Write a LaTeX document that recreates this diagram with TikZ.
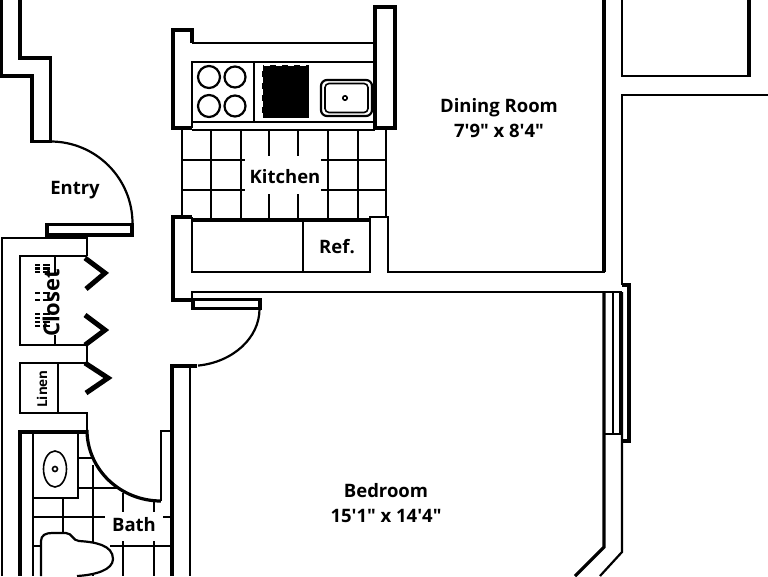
\documentclass[tikz,border=0pt]{standalone}
\usepackage{fontspec}
\setmainfont{Open Sans}[Ligatures=TeXOff]
\begin{document}
\begin{tikzpicture}[
      x=1pt, y=-1pt,
      wall/.style={line width=2.2pt, miter limit=10},
      heavy/.style={line width=3.2pt},
      tile/.style={line width=1.4pt},
      fixture/.style={line width=1.6pt},
      chevron/.style={line width=5pt},
      room/.style={font=\fontsize{18.5}{25}\selectfont\bfseries, inner sep=0pt, align=center},
      small/.style={font=\fontsize{13.5}{16}\selectfont\bfseries, inner sep=0pt}
      ]
  \useasboundingbox (0,0) rectangle (768,576);

  % Outer walls
  \draw[heavy] (1,0) -- (1,76) -- (32,76) -- (32,141.5) -- (50.5,141.5) -- (50.5,58) -- (20,58) -- (20,0);
  \draw[wall] (50.5,141.5) arc[start angle=-90, end angle=0, radius=82];
  \draw[heavy] (47,224.5) rectangle (132,235);
  \draw[wall] (2,576) -- (2,238) -- (47,238);
  \draw[wall] (47,238) -- (87,238) -- (87,256);

  % Closets
  \draw[wall] (87,256) -- (20,256) -- (20,345) -- (87,345) -- (87,363) -- (20,363) -- (20,413) -- (87,413) -- (87,432);
  \draw[wall] (55,256) -- (55,274) (55,335) -- (55,345) (58,363) -- (58,413);
  \draw[chevron] (85,258) -- (105,273) -- (86,289);
  \draw[chevron] (85,315) -- (105,330) -- (85,345);
  \draw[chevron] (85,363) -- (108,378) -- (86,393);
  \foreach \y in {265,268.5,272,293,300,314,318,322,326} \draw[line width=2.2pt] (35,\y) -- (40,\y) (43,\y) -- (50,\y);

  % Bath
  \draw[heavy] (87,432) -- (20,432) -- (20,576);
  \draw[tile] (33,432) -- (33,576);
  \draw[wall] (33,498) rectangle (78,432);
  \draw[fixture] (55,469) ellipse[x radius=11.5, y radius=18];
  \draw[fixture] (55,469) circle[radius=2.5];
  \draw[tile] (78,458) -- (92,458) (78,488) -- (118,488)
              (33,517) -- (105,517) (163,517) -- (170,517)
              (33,546) -- (41,546) (110,546) -- (170,546)
              (63,498) -- (63,533) (123,493) -- (123,512) (123,541) -- (123,576)
              (154,502) -- (154,512) (154,541) -- (154,576);
  \draw[wall] (93,465) -- (93,576);
  \draw[heavy] (87,430) arc[start angle=180, end angle=90, x radius=74, y radius=71];
  \draw[wall] (161,501) -- (161,431) -- (171,431);
  \draw[fill=white, wall] (41,576) -- (41,541) .. controls (41,535) and (46,533) .. (52,533)
       -- (66,533) .. controls (72,533) and (73,541) .. (79,541)
       .. controls (95,542) and (113,545) .. (113,559)
       .. controls (113,570) and (95,575) .. (77,576);

  % Kitchen walls
  \draw[heavy] (192,43) -- (192,30) -- (173,30) -- (173,128) -- (192,128);
  \draw[wall] (192,43) -- (375,43);
  \draw[heavy] (375,43) -- (375,7) -- (395,7) -- (395,128) -- (375,128) -- (375,43);
  \draw[wall] (192,62) rectangle (376,122);
  \draw[wall] (192,128) -- (192,62);
  \draw[wall] (192,130) -- (375,130);
  \draw[fixture] (254,62) -- (254,122);
  \foreach \x/\y/\r in {209/77/11, 235/77/10.5, 209/106/11, 235/106/10.5}
    \draw[wall] (\x,\y) circle[radius=\r];
  \fill (262,65) rectangle (309,118);
  \draw[white, line width=1pt, dash pattern=on 6pt off 6pt] (262,65) rectangle (309,118);
  \draw[wall, rounded corners=6pt] (321,80) rectangle (372,116);
  \draw[fixture, rounded corners=4pt] (325,83.5) rectangle (368,112.5);
  \draw[fixture] (345,98) circle[radius=2.2];

  % Kitchen tiles
  \foreach \x in {182,211,241,328,358,386} \draw[tile] (\x,130) -- (\x,218);
  \foreach \x in {269,298} \draw[tile] (\x,130) -- (\x,156) (\x,194) -- (\x,218);
  \foreach \y in {160,190} \draw[tile] (182,\y) -- (245,\y) (321,\y) -- (386,\y);

  % Counter and walls below kitchen
  \draw[heavy] (192,217) -- (173,217) -- (173,300) -- (192,300);
  \draw[heavy] (192,220) -- (370,220);
  \draw[wall] (192,217) -- (192,272) -- (370,272) -- (370,217) -- (388,217) -- (388,272) -- (604,272) -- (604,0);
  \draw[wall] (303,220) -- (303,272);
  \draw[wall] (192,300) -- (192,292) -- (622,292);
  \draw[heavy] (193,299.5) -- (260,299.5) -- (260,308.5) -- (193,308.5) -- cycle;
  \draw[wall] (259.5,309) arc[start angle=0, end angle=83, x radius=70, y radius=57];
  \draw[heavy] (197,366) -- (172,366) -- (172,576);
  \draw[tile] (190,366) -- (190,576);

  % Right side
  \draw[heavy] (604,0) -- (604,272);
  \draw[wall] (622,0) -- (622,76) -- (749,76);
  \draw[heavy] (749,77) -- (749,0);
  \draw[wall] (768,95) -- (622,95) -- (622,285);
  \draw[heavy] (622,285) -- (629,285) -- (629,441) -- (622,441);
  \draw[heavy] (604,292) -- (604,547) -- (575,576);
  \draw[wall] (622,292) -- (622,552) -- (600,576);
  \draw[tile] (613,293) -- (613,434);
  \draw[tile] (620,293) -- (620,434);
  \draw[wall] (604,434) -- (622,434);

  % Labels
  \node[room] (entry)   at (75,190)  {Entry};
  \node[room] (kitchen) at (285,177) {Kitchen};
  \node[room] (ref)     at (337,247) {Ref.};
  \node[room] (dining)  at (499,118.5) {Dining Room\\7'9" x 8'4"};
  \node[room] (bedroom) at (386,503) {Bedroom\\15'1" x 14'4"};
  \node[room] (bath)    at (134,525) {Bath};
  \node[room, rotate=90, font=\fontsize{22}{26}\selectfont\bfseries] (closet) at (51,303) {Closet};
  \node[small, rotate=90] (linen) at (42,389) {Linen};
\end{tikzpicture}
\end{document}
